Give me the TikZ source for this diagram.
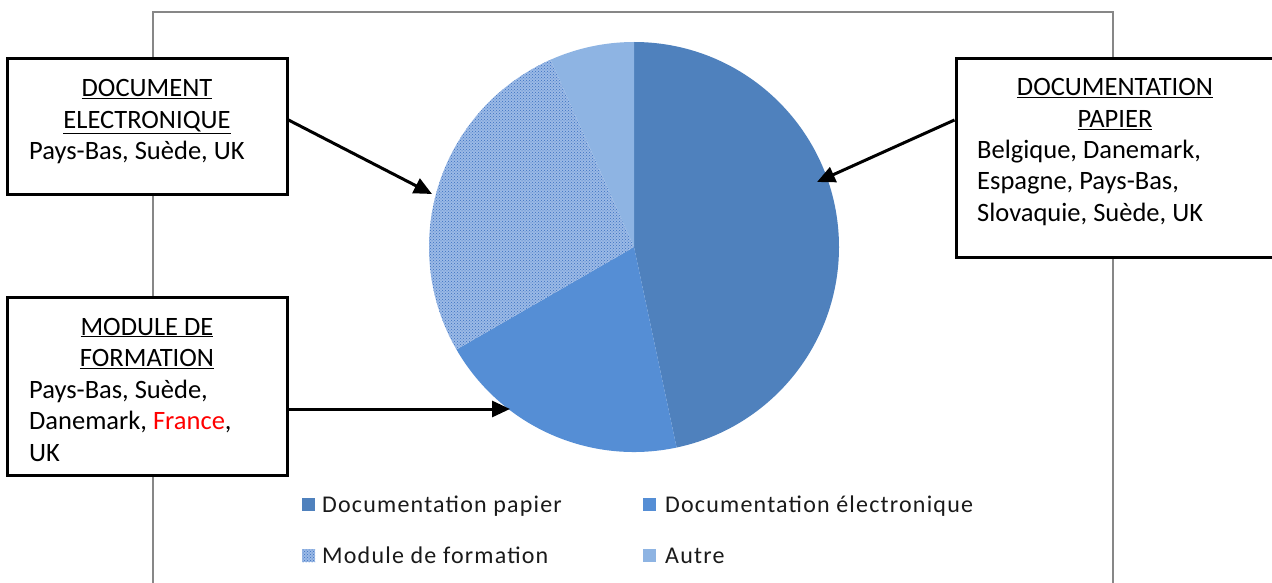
\documentclass[tikz,border=0pt]{standalone}
\usepackage{fontspec}
\setmainfont{Carlito}
\newfontfamily\legfont[LetterSpace=5]{Carlito}
\usetikzlibrary{arrows.meta,patterns}
\definecolor{cPapier}{HTML}{4F81BD}
\definecolor{cElec}{HTML}{558ED5}
\definecolor{cAutre}{HTML}{8EB4E3}
\definecolor{cModBg}{HTML}{9BBAE6}
\definecolor{cModDot}{HTML}{3A6FC0}
\definecolor{cFrame}{HTML}{878787}
\definecolor{cLeg}{HTML}{1A1A1A}
\tikzset{
  box/.style={draw=black, line width=3pt, fill=white, inner sep=0pt},
  boxtext/.style={font=\fontsize{26.5}{31.7}\selectfont, inner sep=0pt, text=black},
  legsq/.style={minimum width=13pt, minimum height=13pt, inner sep=0pt},
  legtext/.style={font=\legfont\fontsize{24}{28}\selectfont, text=cLeg, inner sep=0pt, anchor=base west},
  conn/.style={line width=3pt, -{Triangle[length=18pt,width=16pt]}},
  modfill/.style={fill=cModBg, postaction={pattern=crosshatch dots, pattern color=cModDot}}
}
\begin{document}
\begin{tikzpicture}[x=1pt,y=-1pt]
\useasboundingbox (0,0) rectangle (1272,583);
\fill[white] (0,0) rectangle (1272,583);
% chart frame
\draw[cFrame, line width=2pt] (153,590) -- (153,12) -- (1113,12) -- (1113,590);
% pie
\coordinate (c) at (634,247);
\fill[cPapier] (c) -- ++(90:205pt) arc[start angle=90, end angle=-78, radius=205pt] -- cycle;
\fill[cElec] (c) -- ++(-78:205pt) arc[start angle=-78, end angle=-150, radius=205pt] -- cycle;
\path[modfill] (c) -- ++(-150:205pt) arc[start angle=-150, end angle=-246, radius=205pt] -- cycle;
\fill[cAutre] (c) -- ++(114:205pt) arc[start angle=114, end angle=90, radius=205pt] -- cycle;
% legend
\node[legsq, fill=cPapier] (sq1) at (308.5,504.5) {};
\node[legtext] (lt1) at (322,512) {Documentation papier};
\node[legsq, fill=cElec] (sq2) at (649.5,504.5) {};
\node[legtext] (lt2) at (665,512) {Documentation électronique};
\node[legsq, modfill] (sq3) at (308.5,555.5) {};
\node[legtext] (lt3) at (322,563) {Module de formation};
\node[legsq, fill=cAutre] (sq4) at (649.5,555.5) {};
\node[legtext] (lt4) at (665,563) {Autre};
% boxes
\node[box, minimum width=280pt, minimum height=135pt] (b1) at (147,126.5) {};
\node[boxtext, align=center, anchor=base] (h1) at (147,128.7) {\underline{DOCUMENT}\\\underline{ELECTRONIQUE}};
\node[boxtext, align=left, anchor=base west] (t1) at (29,160) {Pays-Bas, Suède, UK};
\node[box, minimum width=320pt, minimum height=198pt] (b2) at (1116,158) {};
\node[boxtext, align=center, anchor=base] (h2) at (1115,127.7) {\underline{DOCUMENTATION}\\\underline{PAPIER}};
\node[boxtext, align=left, anchor=base west] (t2) at (977,221.4) {Belgique, Danemark,\\Espagne, Pays-Bas,\\Slovaquie, Suède, UK};
\node[box, minimum width=280pt, minimum height=178pt] (b3) at (147,386) {};
\node[boxtext, align=center, anchor=base] (h3) at (147,366.7) {\underline{MODULE DE}\\\underline{FORMATION}};
\node[boxtext, align=left, anchor=base west] (t3) at (29,461.4) {Pays-Bas, Suède,\\Danemark, \textcolor{red}{France},\\UK};
% connectors
\coordinate (a1) at (432,194);
\coordinate (a2) at (817,182);
\coordinate (a3) at (510,409);
\draw[conn] ([yshift=6.5pt]b1.east) -- (a1);
\draw[conn] ([yshift=38pt]b2.west) -- (a2);
\draw[conn] ([yshift=-23pt]b3.east) -- (a3);
\end{tikzpicture}
\end{document}
